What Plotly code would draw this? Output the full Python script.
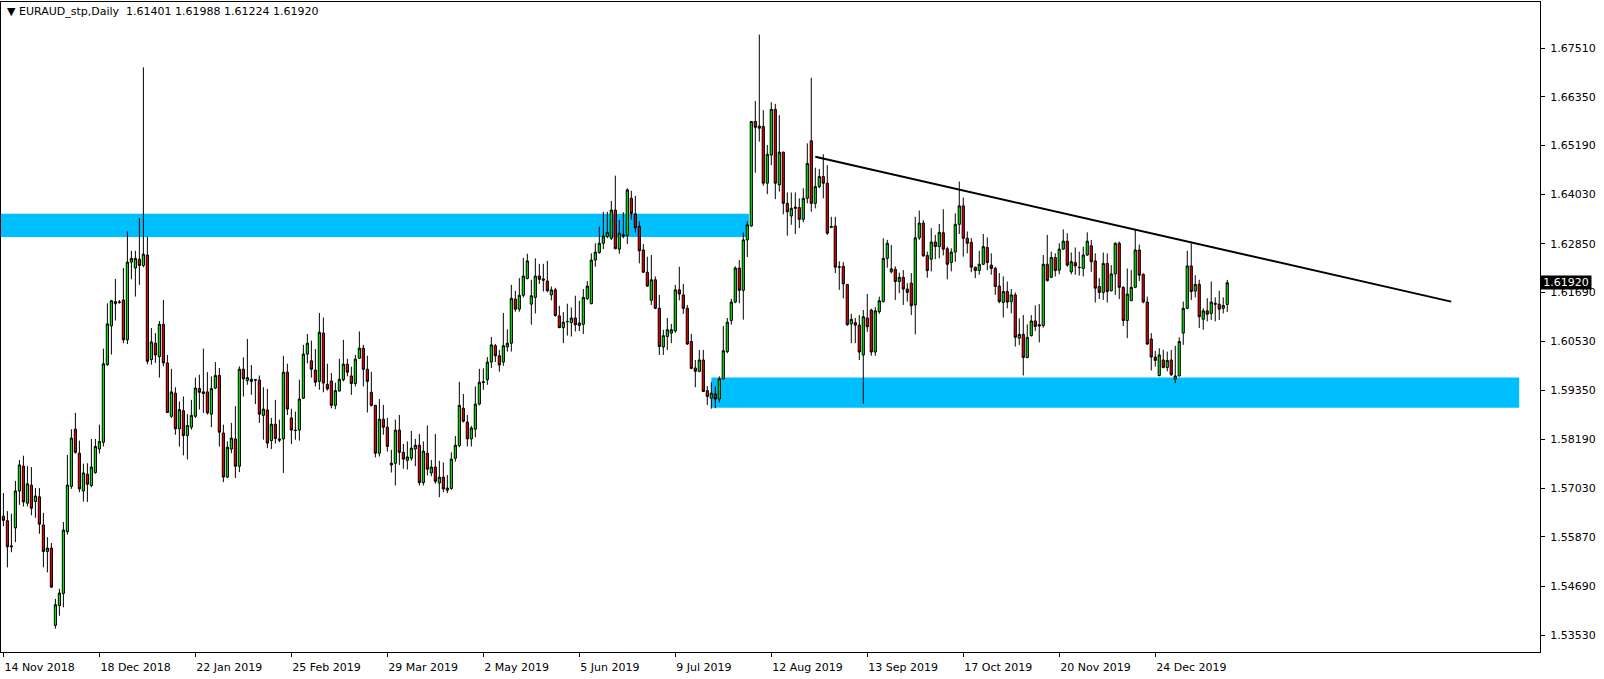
import plotly.graph_objects as go

# ---------------- data ----------------
symbol_header = "\u25BC EURAUD_stp,Daily  1.61401 1.61988 1.61224 1.61920"
last_price = 1.61920

opens = [
1.5636,1.5625,1.5563,1.5608,1.5696,1.5755,1.5667,1.5710,1.5671,1.5682,
1.5615,1.5552,1.5560,1.5376,1.5423,1.5452,1.5599,1.5707,1.5843,1.5786,
1.5696,1.5736,1.5709,1.5740,1.5796,1.5812,1.5997,1.6089,1.6142,1.6145,
1.6151,1.6056,1.6241,1.6227,1.6248,1.6233,1.6258,1.6009,1.6048,1.6016,
1.6093,1.6001,1.5874,1.5929,1.5844,1.5887,1.5828,1.5848,1.5874,1.5940,
1.5932,1.5932,1.5879,1.5941,1.5971,1.5834,1.5729,1.5796,1.5820,1.5755,
1.5986,1.5959,1.5957,1.5961,1.5960,1.5876,1.5889,1.5816,1.5855,1.5820,
1.5820,1.5979,1.5870,1.5841,1.5841,1.5917,1.6022,1.6006,1.5984,1.5957,
1.6072,1.5950,1.5958,1.5900,1.5934,1.5961,1.5998,1.5970,1.5952,1.6012,
1.6036,1.5986,1.5931,1.5900,1.5786,1.5867,1.5848,1.5758,1.5762,1.5841,
1.5788,1.5769,1.5774,1.5796,1.5805,1.5716,1.5786,1.5739,1.5753,1.5715,
1.5729,1.5698,1.5702,1.5774,1.5804,1.5893,1.5860,1.5820,1.5843,1.5903,
1.5954,1.5961,1.6003,1.6042,1.6018,1.6003,1.6039,1.6048,1.6153,1.6129,
1.6162,1.6202,1.6141,1.6157,1.6208,1.6201,1.6196,1.6163,1.6175,1.6113,
1.6085,1.6100,1.6097,1.6108,1.6090,1.6093,1.6154,1.6142,1.6246,1.6264,
1.6286,1.6302,1.6298,1.6365,1.6272,1.6306,1.6305,1.6393,1.6356,1.6326,
1.6270,1.6217,1.6150,1.6199,1.6131,1.6039,1.6064,1.6072,1.6077,1.6175,
1.6163,1.6131,1.6052,1.5989,1.5981,1.6008,1.5935,1.5917,1.5927,1.5915,
1.5963,1.6028,1.6102,1.6146,1.6227,1.6174,1.6294,1.6327,1.6576,1.6560,
1.6564,1.6429,1.6496,1.6605,1.6425,1.6503,1.6381,1.6351,1.6369,1.6371,
1.6343,1.6393,1.6530,1.6381,1.6421,1.6445,1.6429,1.6326,1.6327,1.6230,
1.6231,1.6188,1.6094,1.6097,1.6091,1.6020,1.6108,1.6127,1.6027,1.6123,
1.6147,1.6250,1.6218,1.6224,1.6195,1.6205,1.6177,1.6191,1.6139,1.6299,
1.6334,1.6257,1.6248,1.6289,1.6278,1.6311,1.6273,1.6240,1.6265,1.6331,
1.6375,1.6298,1.6288,1.6229,1.6221,1.6236,1.6276,1.6234,1.6226,1.6184,
1.6145,1.6171,1.6147,1.6163,1.6060,1.6069,1.6014,1.6066,1.6101,1.6092,
1.6090,1.6236,1.6205,1.6252,1.6222,1.6272,1.6291,1.6218,1.6240,1.6229,
1.6226,1.6258,1.6280,1.6244,1.6183,1.6169,1.6238,1.6173,1.6213,1.6286,
1.6181,1.6102,1.6149,1.6181,1.6270,1.6212,1.6146,1.6058,1.6015,1.5971,
1.6008,1.5990,1.6008,1.5962,1.5970,1.6072,1.6131,1.6232,1.6172,1.6188,
1.6105,1.6125,1.6119,1.6143,1.6141,1.6131,1.61401]

highs = [
1.5691,1.5648,1.5642,1.5720,1.5770,1.5780,1.5755,1.5753,1.5703,1.5703,
1.5644,1.5586,1.5572,1.5439,1.5463,1.5622,1.5782,1.5843,1.5882,1.5816,
1.5761,1.5762,1.5820,1.5820,1.5854,1.6035,1.6143,1.6151,1.6201,1.6151,
1.6227,1.6314,1.6268,1.6268,1.6346,1.6705,1.6302,1.6084,1.6072,1.6101,
1.6151,1.6020,1.5987,1.5943,1.5909,1.5921,1.5879,1.5913,1.5966,1.5973,
1.6035,1.5979,1.5969,1.6003,1.5989,1.5854,1.5814,1.5858,1.5898,1.5993,
1.6014,1.6058,1.5996,1.5963,1.5971,1.5943,1.5939,1.5870,1.5913,1.5866,
1.6018,1.5999,1.5892,1.5885,1.5961,1.6044,1.6070,1.6054,1.6034,1.6120,
1.6109,1.5999,1.5977,1.5954,1.6011,1.6056,1.6011,1.5992,1.6020,1.6076,
1.6044,1.6018,1.5980,1.5901,1.5915,1.5901,1.5870,1.5794,1.5866,1.5877,
1.5808,1.5814,1.5839,1.5820,1.5832,1.5814,1.5852,1.5770,1.5832,1.5768,
1.5764,1.5734,1.5788,1.5827,1.5956,1.5927,1.5877,1.5851,1.5945,1.5987,
1.5988,1.6015,1.6063,1.6046,1.6032,1.6120,1.6081,1.6187,1.6173,1.6203,
1.6251,1.6261,1.6199,1.6250,1.6237,1.6237,1.6244,1.6183,1.6180,1.6137,
1.6122,1.6142,1.6133,1.6161,1.6149,1.6177,1.6196,1.6262,1.6286,1.6326,
1.6361,1.6361,1.6387,1.6447,1.6341,1.6360,1.6417,1.6411,1.6399,1.6338,
1.6284,1.6254,1.6258,1.6207,1.6163,1.6080,1.6108,1.6094,1.6187,1.6230,
1.6189,1.6139,1.6070,1.6008,1.6032,1.6032,1.5946,1.5955,1.5945,1.5969,
1.6089,1.6108,1.6154,1.6231,1.6246,1.6312,1.6338,1.6577,1.6625,1.6783,
1.6603,1.6520,1.6622,1.6618,1.6591,1.6504,1.6407,1.6407,1.6407,1.6393,
1.6417,1.6524,1.6680,1.6466,1.6463,1.6498,1.6472,1.6349,1.6349,1.6243,
1.6241,1.6189,1.6118,1.6108,1.6115,1.6127,1.6165,1.6130,1.6134,1.6159,
1.6298,1.6294,1.6282,1.6231,1.6216,1.6222,1.6191,1.6215,1.6349,1.6364,
1.6341,1.6266,1.6322,1.6306,1.6332,1.6367,1.6278,1.6274,1.6357,1.6433,
1.6395,1.6314,1.6298,1.6230,1.6268,1.6308,1.6300,1.6262,1.6230,1.6215,
1.6207,1.6195,1.6177,1.6169,1.6107,1.6115,1.6093,1.6115,1.6138,1.6141,
1.6258,1.6306,1.6266,1.6262,1.6286,1.6319,1.6310,1.6264,1.6276,1.6266,
1.6278,1.6312,1.6294,1.6262,1.6203,1.6264,1.6262,1.6234,1.6288,1.6290,
1.6184,1.6226,1.6222,1.6318,1.6283,1.6214,1.6159,1.6072,1.6030,1.6036,
1.6032,1.6028,1.6032,1.6042,1.6062,1.6147,1.6268,1.6286,1.6210,1.6199,
1.6131,1.6155,1.6195,1.6157,1.6173,1.6157,1.61988]

lows = [
1.5612,1.5514,1.5550,1.5574,1.5663,1.5659,1.5659,1.5638,1.5632,1.5594,
1.5514,1.5502,1.5465,1.5368,1.5399,1.5419,1.5592,1.5701,1.5785,1.5693,
1.5671,1.5670,1.5705,1.5737,1.5785,1.5802,1.5994,1.6021,1.6102,1.6142,
1.6048,1.6046,1.6200,1.6159,1.6187,1.6229,1.5998,1.5997,1.6001,1.5966,
1.5993,1.5882,1.5870,1.5830,1.5802,1.5781,1.5771,1.5842,1.5870,1.5890,
1.5882,1.5878,1.5848,1.5939,1.5802,1.5717,1.5727,1.5786,1.5727,1.5741,
1.5921,1.5949,1.5925,1.5903,1.5858,1.5818,1.5798,1.5796,1.5809,1.5812,
1.5739,1.5877,1.5808,1.5818,1.5816,1.5915,1.6000,1.5966,1.5945,1.5937,
1.5931,1.5935,1.5893,1.5891,1.5933,1.5957,1.5969,1.5925,1.5945,1.6011,
1.5945,1.5883,1.5897,1.5776,1.5778,1.5830,1.5790,1.5740,1.5709,1.5758,
1.5749,1.5747,1.5768,1.5755,1.5709,1.5709,1.5733,1.5731,1.5713,1.5681,
1.5693,1.5691,1.5699,1.5766,1.5800,1.5859,1.5802,1.5802,1.5824,1.5900,
1.5937,1.5949,1.5989,1.6003,1.5980,1.5994,1.6028,1.6028,1.6123,1.6123,
1.6157,1.6200,1.6092,1.6119,1.6189,1.6171,1.6169,1.6150,1.6111,1.6084,
1.6048,1.6066,1.6064,1.6076,1.6077,1.6070,1.6151,1.6141,1.6230,1.6261,
1.6272,1.6298,1.6294,1.6272,1.6261,1.6298,1.6284,1.6342,1.6311,1.6238,
1.6215,1.6182,1.6139,1.6129,1.6020,1.6020,1.6032,1.6048,1.6073,1.6150,
1.6118,1.6044,1.5986,1.5943,1.5979,1.5932,1.5901,1.5892,1.5893,1.5907,
1.5961,1.6024,1.6092,1.6143,1.6143,1.6104,1.6253,1.6326,1.6454,1.6528,
1.6423,1.6403,1.6472,1.6391,1.6409,1.6355,1.6304,1.6330,1.6308,1.6322,
1.6336,1.6381,1.6361,1.6369,1.6417,1.6393,1.6306,1.6323,1.6215,1.6175,
1.6155,1.6089,1.6048,1.6048,1.6008,1.5904,1.6075,1.6018,1.6018,1.6118,
1.6145,1.6228,1.6214,1.6151,1.6167,1.6139,1.6147,1.6115,1.6069,1.6294,
1.6254,1.6204,1.6219,1.6248,1.6250,1.6257,1.6200,1.6219,1.6242,1.6308,
1.6254,1.6262,1.6217,1.6203,1.6211,1.6234,1.6222,1.6211,1.6163,1.6143,
1.6109,1.6131,1.6119,1.6040,1.6044,1.5971,1.6012,1.6064,1.6077,1.6050,
1.6085,1.6195,1.6203,1.6207,1.6212,1.6270,1.6230,1.6212,1.6211,1.6209,
1.6207,1.6256,1.6218,1.6145,1.6153,1.6151,1.6145,1.6171,1.6163,1.6153,
1.6089,1.6060,1.6149,1.6179,1.6196,1.6143,1.6044,1.5983,1.5992,1.5969,
1.5988,1.5981,1.5970,1.5953,1.5969,1.6044,1.6129,1.6151,1.6157,1.6084,
1.6080,1.6100,1.6103,1.6100,1.6103,1.6119,1.61224]

closes = [
1.5626,1.5563,1.5565,1.5696,1.5758,1.5670,1.5713,1.5655,1.5684,1.5617,
1.5552,1.5560,1.5467,1.5425,1.5453,1.5603,1.5710,1.5822,1.5788,1.5701,
1.5739,1.5712,1.5753,1.5802,1.5814,1.5999,1.6094,1.6149,1.6147,1.6146,
1.6056,1.6241,1.6250,1.6250,1.6233,1.6260,1.6005,1.6051,1.6020,1.6093,
1.6001,1.5883,1.5932,1.5844,1.5890,1.5828,1.5852,1.5876,1.5941,1.5931,
1.5928,1.5882,1.5940,1.5971,1.5836,1.5729,1.5800,1.5822,1.5755,1.5986,
1.5963,1.5966,1.5962,1.5960,1.5879,1.5891,1.5810,1.5855,1.5821,1.5817,
1.5979,1.5891,1.5841,1.5840,1.5915,1.6022,1.6048,1.5986,1.5955,1.6074,
1.5953,1.5939,1.5900,1.5935,1.5962,1.5998,1.5979,1.5952,1.6010,1.6036,
1.5986,1.5957,1.5900,1.5786,1.5867,1.5848,1.5802,1.5762,1.5841,1.5788,
1.5772,1.5777,1.5798,1.5805,1.5716,1.5791,1.5748,1.5753,1.5719,1.5729,
1.5701,1.5703,1.5772,1.5805,1.5900,1.5862,1.5820,1.5846,1.5903,1.5955,
1.5956,1.6003,1.6044,1.6018,1.5996,1.6042,1.6048,1.6155,1.6129,1.6162,
1.6208,1.6244,1.6161,1.6208,1.6200,1.6198,1.6173,1.6175,1.6114,1.6085,
1.6098,1.6099,1.6108,1.6092,1.6096,1.6157,1.6184,1.6246,1.6265,1.6286,
1.6303,1.6312,1.6365,1.6273,1.6310,1.6303,1.6413,1.6357,1.6323,1.6268,
1.6217,1.6184,1.6199,1.6131,1.6040,1.6066,1.6080,1.6080,1.6175,1.6165,
1.6131,1.6046,1.5988,1.5981,1.6008,1.5933,1.5921,1.5929,1.5915,1.5963,
1.6030,1.6098,1.6146,1.6227,1.6174,1.6294,1.6330,1.6576,1.6562,1.6565,
1.6429,1.6498,1.6605,1.6429,1.6503,1.6381,1.6361,1.6369,1.6372,1.6343,
1.6393,1.6476,1.6381,1.6421,1.6445,1.6429,1.6310,1.6324,1.6229,1.6229,
1.6189,1.6092,1.6105,1.6091,1.6027,1.6111,1.6087,1.6027,1.6125,1.6149,
1.6250,1.6286,1.6225,1.6195,1.6205,1.6177,1.6169,1.6137,1.6299,1.6334,
1.6256,1.6221,1.6289,1.6278,1.6312,1.6272,1.6236,1.6265,1.6331,1.6375,
1.6298,1.6286,1.6229,1.6221,1.6236,1.6278,1.6240,1.6226,1.6183,1.6147,
1.6171,1.6146,1.6163,1.6062,1.6069,1.6014,1.6062,1.6101,1.6088,1.6089,
1.6236,1.6197,1.6252,1.6221,1.6272,1.6291,1.6234,1.6242,1.6232,1.6228,
1.6258,1.6291,1.6242,1.6179,1.6169,1.6238,1.6171,1.6213,1.6286,1.6181,
1.6102,1.6165,1.6181,1.6270,1.6210,1.6146,1.6046,1.6015,1.6007,1.6020,
1.5990,1.6007,1.5973,1.5970,1.6052,1.6131,1.6232,1.6171,1.6188,1.6111,
1.6125,1.6117,1.6146,1.6141,1.6129,1.6138,1.61920]

# date labels shown on the time axis (every 24th bar)
date_labels = ["14 Nov 2018", "18 Dec 2018", "22 Jan 2019", "25 Feb 2019",
               "29 Mar 2019", "2 May 2019", "5 Jun 2019", "9 Jul 2019",
               "12 Aug 2019", "13 Sep 2019", "17 Oct 2019", "20 Nov 2019",
               "24 Dec 2019"]
date_label_bars = [0, 24, 48, 72, 96, 120, 144, 168, 192, 216, 240, 264, 288]

price_ticks = [1.53530, 1.54690, 1.55870, 1.57030, 1.58190, 1.59350, 1.60530,
               1.61690, 1.62850, 1.64030, 1.65190, 1.66350, 1.67510]

# drawn objects (bar index / price)
resistance_zone = {"x0": -1, "x1": 186.4, "y0": 1.6301, "y1": 1.6356}
support_zone = {"x0": 177, "x1": 379, "y0": 1.5894, "y1": 1.5966}
trend_line = {"x0": 203, "y0": 1.6492, "x1": 362, "y1": 1.6147}

# ---------------- figure ----------------
bars = list(range(len(opens)))
FONT = "DejaVu Sans"

fig = go.Figure()
fig.add_trace(go.Candlestick(
    x=bars, open=opens, high=highs, low=lows, close=closes,
    increasing=dict(line=dict(color="black", width=1), fillcolor="#00E600"),
    decreasing=dict(line=dict(color="black", width=1), fillcolor="#E60000"),
    whiskerwidth=0, showlegend=False, hoverinfo="skip",
))

for z in (resistance_zone, support_zone):
    fig.add_shape(type="rect", xref="x", yref="y", x0=z["x0"], x1=z["x1"],
                  y0=z["y0"], y1=z["y1"], fillcolor="#00BFFF",
                  line=dict(width=0), layer="below")

fig.add_shape(type="line", xref="x", yref="y", x0=trend_line["x0"],
              y0=trend_line["y0"], x1=trend_line["x1"], y1=trend_line["y1"],
              line=dict(color="black", width=2), layer="above")

fig.add_annotation(text=symbol_header, xref="paper", yref="paper", x=0, y=1,
                   xanchor="left", yanchor="top", xshift=4, yshift=-1,
                   showarrow=False, font=dict(family=FONT, size=11, color="black"))

fig.add_annotation(text=f"{last_price:.5f}", xref="paper", yref="y", x=1,
                   y=last_price, xanchor="left", yanchor="middle", xshift=0,
                   width=50, height=13, align="center",
                   showarrow=False, bgcolor="black", borderpad=0,
                   font=dict(family=FONT, size=11, color="white"))

fig.update_layout(
    width=1604, height=679,
    margin=dict(l=1, r=64, t=2, b=27),
    paper_bgcolor="white", plot_bgcolor="white",
    font=dict(family=FONT, size=11, color="black"),
    boxgap=0.22,
    xaxis=dict(range=[-0.6, 384.2], tickvals=date_label_bars, ticktext=date_labels,
               ticks="outside", ticklen=4, tickcolor="black",
               ticklabelposition="outside right", ticklabelstandoff=5,
               showline=True, linecolor="black", linewidth=1, mirror=True,
               showgrid=False, zeroline=False, rangeslider=dict(visible=False),
               fixedrange=True),
    yaxis=dict(range=[1.53125, 1.68606], side="right", tickvals=price_ticks,
               ticktext=[f"{v:.5f}" for v in price_ticks],
               ticks="outside", ticklen=4, tickcolor="black",
               ticklabelstandoff=3,
               showline=True, linecolor="black", linewidth=1, mirror=True,
               showgrid=False, zeroline=False, fixedrange=True),
)

fig.write_html("out.html", config={"displayModeBar": False},
               post_script="document.body.style.margin='0px';document.body.style.overflow='hidden';")
